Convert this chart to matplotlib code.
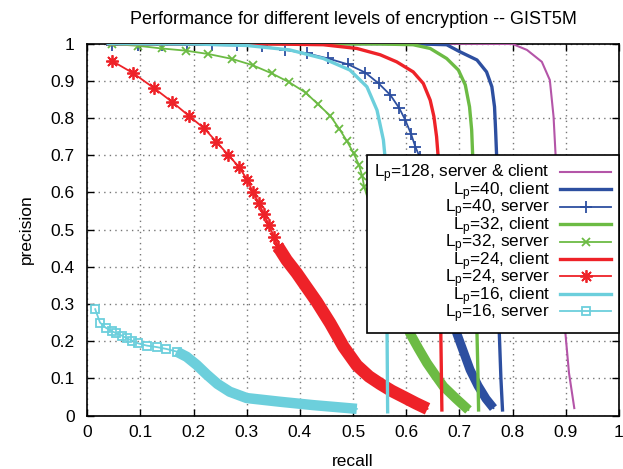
import numpy as np
import matplotlib
matplotlib.use("Agg")
import matplotlib.pyplot as plt

plt.rcParams['font.family'] = ['Liberation Sans', 'DejaVu Sans']
plt.rcParams['mathtext.fontset'] = 'custom'
plt.rcParams['mathtext.rm'] = 'Liberation Sans'
plt.rcParams['mathtext.it'] = 'Liberation Sans'

# ---- data (recall, precision) ----
r_128 = [0.05, 0.30, 0.60, 0.800, 0.827, 0.855, 0.870, 0.877, 0.881, 0.890, 0.899, 0.906, 0.916]
p_128 = [1.00, 1.00, 1.00, 0.999, 0.983, 0.951, 0.902, 0.804, 0.696, 0.450, 0.226, 0.115, 0.020]

r_40c = [0.04, 0.30, 0.60, 0.676, 0.701, 0.733, 0.751, 0.761, 0.766, 0.768, 0.770, 0.773, 0.775, 0.778, 0.781]
p_40c = [1.00, 1.00, 1.00, 0.997, 0.978, 0.956, 0.924, 0.884, 0.830, 0.768, 0.696, 0.450, 0.221, 0.100, 0.015]

r_40s = [0.046, 0.096, 0.140, 0.187, 0.234, 0.281, 0.328, 0.372, 0.413, 0.453, 0.491, 0.523, 0.548,
         0.570, 0.587, 0.598, 0.609, 0.617, 0.625, 0.640, 0.655, 0.670, 0.685, 0.695, 0.708, 0.720,
         0.735, 0.750, 0.764]
p_40s = [0.997, 0.997, 0.997, 0.996, 0.996, 0.995, 0.993, 0.983, 0.974, 0.960, 0.944, 0.922, 0.893,
         0.862, 0.826, 0.795, 0.757, 0.723, 0.696, 0.620, 0.530, 0.430, 0.320, 0.221, 0.170, 0.123,
         0.080, 0.045, 0.020]

r_32c = [0.04, 0.30, 0.55, 0.613, 0.645, 0.676, 0.698, 0.711, 0.719, 0.723, 0.725, 0.730, 0.733, 0.735, 0.736]
p_32c = [1.00, 1.00, 0.999, 0.997, 0.987, 0.960, 0.929, 0.889, 0.830, 0.768, 0.696, 0.450, 0.222, 0.100, 0.015]

r_32s = [0.046, 0.096, 0.140, 0.186, 0.228, 0.272, 0.311, 0.347, 0.380, 0.411, 0.434, 0.457, 0.474,
         0.488, 0.501, 0.511, 0.517, 0.521, 0.535, 0.555, 0.575, 0.592, 0.607, 0.623, 0.639, 0.655,
         0.670, 0.694, 0.717]
p_32s = [0.999, 0.994, 0.987, 0.981, 0.972, 0.959, 0.942, 0.920, 0.896, 0.868, 0.837, 0.806, 0.771,
         0.739, 0.705, 0.674, 0.645, 0.614, 0.550, 0.450, 0.350, 0.280, 0.221, 0.180, 0.141, 0.108,
         0.078, 0.045, 0.015]

r_24c = [0.04, 0.30, 0.444, 0.507, 0.551, 0.582, 0.613, 0.632, 0.645, 0.652, 0.657, 0.660, 0.663, 0.665, 0.667]
p_24c = [1.00, 1.00, 0.997, 0.987, 0.970, 0.951, 0.924, 0.893, 0.848, 0.804, 0.750, 0.696, 0.450, 0.221, 0.015]

r_24s = [0.046, 0.087, 0.126, 0.159, 0.191, 0.220, 0.243, 0.265, 0.285, 0.301, 0.311, 0.323, 0.332,
         0.342, 0.351, 0.359, 0.375, 0.394, 0.410, 0.432, 0.457, 0.482, 0.507, 0.530, 0.551, 0.573,
         0.595, 0.618, 0.640]
p_24s = [0.954, 0.920, 0.880, 0.844, 0.806, 0.772, 0.736, 0.701, 0.669, 0.634, 0.602, 0.571, 0.542,
         0.512, 0.481, 0.454, 0.418, 0.383, 0.350, 0.305, 0.248, 0.185, 0.135, 0.105, 0.085, 0.066,
         0.050, 0.033, 0.018]

r_16c = [0.04, 0.20, 0.30, 0.381, 0.444, 0.494, 0.526, 0.545, 0.557, 0.560, 0.563, 0.565]
p_16c = [1.00, 0.999, 0.995, 0.983, 0.960, 0.929, 0.884, 0.821, 0.741, 0.696, 0.400, 0.010]

r_16s = [0.015, 0.024, 0.035, 0.046, 0.055, 0.065, 0.074, 0.085, 0.096, 0.112, 0.131, 0.149, 0.168,
         0.187, 0.206, 0.225, 0.245, 0.268, 0.300, 0.363, 0.425, 0.507]
p_16s = [0.286, 0.250, 0.236, 0.227, 0.221, 0.215, 0.208, 0.201, 0.194, 0.188, 0.184, 0.179, 0.172,
         0.158, 0.136, 0.110, 0.085, 0.064, 0.047, 0.037, 0.028, 0.018]

c_mag = '#b455a8'
c_blue = '#2d4fa0'
c_green = '#6cbb44'
c_red = '#ee2228'
c_cyan = '#6ccfdc'

fig = plt.figure(figsize=(6.23, 4.69), dpi=100)
ax = fig.add_axes([0.140, 0.114, 0.8535, 0.793])

def server(r, p, color, marker, ms, band_from, band_lw, label):
    # sparse part with visible markers, dense tail drawn as a thick band
    ax.plot(r, p, color=color, lw=1.3, marker=marker, ms=ms, mew=1.3, mfc='none',
            markevery=slice(0, band_from + 1), label=label, zorder=3)
    ax.plot(r[band_from:], p[band_from:], color=color, lw=band_lw,
            solid_capstyle='butt', solid_joinstyle='round', zorder=3)

ax.plot(r_128, p_128, color=c_mag, lw=1.5, label=r'L$_\mathrm{p}$=128, server & client', zorder=3)
ax.plot(r_40c, p_40c, color=c_blue, lw=2.4, label=r'L$_\mathrm{p}$=40, client', zorder=3)
server(r_40s, p_40s, c_blue, '+', 8, 19, 6.5, r'L$_\mathrm{p}$=40, server')
ax.plot(r_32c, p_32c, color=c_green, lw=2.4, label=r'L$_\mathrm{p}$=32, client', zorder=3)
server(r_32s, p_32s, c_green, 'x', 6, 19, 7, r'L$_\mathrm{p}$=32, server')
ax.plot(r_24c, p_24c, color=c_red, lw=2.4, label=r'L$_\mathrm{p}$=24, client', zorder=3)
server(r_24s, p_24s, c_red, (8, 2, 0), 9, 15, 9, r'L$_\mathrm{p}$=24, server')
ax.plot(r_16c, p_16c, color=c_cyan, lw=2.4, label=r'L$_\mathrm{p}$=16, client', zorder=3)
server(r_16s, p_16s, c_cyan, 's', 5.5, 12, 7.5, r'L$_\mathrm{p}$=16, server')

ax.set_xlim(0, 1)
ax.set_ylim(0, 1)
ticks = np.arange(0, 1.01, 0.1)
tick_labels = ['0', '0.1', '0.2', '0.3', '0.4', '0.5', '0.6', '0.7', '0.8', '0.9', '1']
ax.set_xticks(ticks)
ax.set_xticklabels(tick_labels)
ax.set_yticks(ticks)
ax.set_yticklabels(tick_labels)
ax.tick_params(direction='in', top=True, right=True, length=5, width=1, labelsize=12.5)
ax.tick_params(axis='x', pad=7)
ax.tick_params(axis='y', pad=9)
ax.grid(True, color='#777777', linestyle=(0, (1, 3)), linewidth=1)
for s in ax.spines.values():
    s.set_linewidth(1.2)

ax.set_xlabel('recall', fontsize=12.5, labelpad=10)
ax.set_ylabel('precision', fontsize=12.5, labelpad=12)
ax.set_title('Performance for different levels of encryption -- GIST5M', fontsize=13, pad=14)

leg = ax.legend(loc='upper right', bbox_to_anchor=(1.0, 0.7005), borderaxespad=0,
                markerfirst=False, fontsize=12.3, frameon=True, fancybox=False,
                framealpha=1, edgecolor='black', handlelength=3.0, handletextpad=0.6,
                labelspacing=-0.3, borderpad=0.45)
leg.get_frame().set_linewidth(1.2)
leg.set_zorder(5)
for col in leg._legend_handle_box.get_children():
    col.align = 'right'

plt.savefig('out.png', dpi=100)
